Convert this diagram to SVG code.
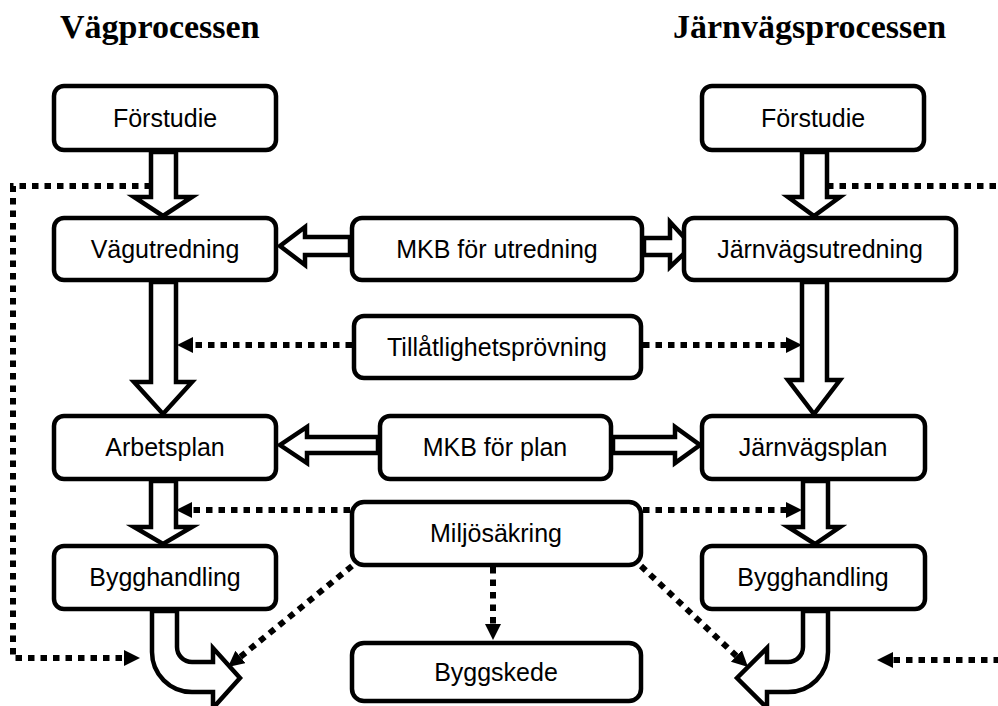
<svg xmlns="http://www.w3.org/2000/svg" width="998" height="706" viewBox="0 0 998 706">
<style>
.box{fill:#fff;stroke:#000;stroke-width:4.5}
.blk{fill:#fff;stroke:#000;stroke-width:4.5;stroke-linejoin:miter}
.dot{fill:none;stroke:#000;stroke-width:6;stroke-dasharray:6.5 6}
.lbl{font-family:"Liberation Sans",Arial,sans-serif;font-size:25px;text-anchor:middle;fill:#000}
.title{font-family:"Liberation Serif","Times New Roman",serif;font-weight:bold;font-size:34px;fill:#000}
</style>
<defs>
<marker id="ah" markerWidth="18" markerHeight="18" refX="0" refY="8" orient="auto" markerUnits="userSpaceOnUse">
<path d="M0,0 L16,8 L0,16 Z" fill="#000"/>
</marker>
</defs>
<rect width="998" height="706" fill="#fff"/>
<g id="titles">
<text class="title" x="60" y="38">Vägprocessen</text>
<text class="title" x="673" y="38">Järnvägsprocessen</text>
</g>
<g id="connectors">
<path class="blk" d="M151,152 L151,197 L134,197 L163,216 L192,197 L176,197 L176,152 Z"/>
<path class="blk" d="M151,282 L151,382 L134,382 L163,414 L192,382 L176,382 L176,282 Z"/>
<path class="blk" d="M151,481 L151,527 L134,527 L163,544 L192,527 L176,527 L176,481 Z"/>
<path class="blk" d="M802,152 L802,197 L788,197 L814,216 L840,197 L827,197 L827,152 Z"/>
<path class="blk" d="M802,282 L802,380 L788,380 L814,414 L840,380 L827,380 L827,282 Z"/>
<path class="blk" d="M803,481 L803,527 L788,527 L815,544 L840,527 L828,527 L828,481 Z"/>
<path class="blk" d="M350,237 L305,237 L305,227 L280,246 L305,265 L305,255 L350,255 Z"/>
<path class="blk" d="M644,238 L670,238 L670,222 L692,246 L670,267 L670,255 L644,255 Z"/>
<path class="blk" d="M378,437 L307,437 L307,427 L280,445 L307,463 L307,453 L378,453 Z"/>
<path class="blk" d="M613,437 L675,437 L675,427 L700,445 L675,463 L675,453 L613,453 Z"/>
<path class="blk" d="M152,611 L152,652 A40,40 0 0 0 192,692 L213,692 L213,708 L240,678 L213,648 L213,662 L192,662 A15,15 0 0 1 177,647 L177,611 Z"/>
<path class="blk" d="M828,611 L828,652 A40,40 0 0 1 788,692 L767,692 L767,708 L737,678 L767,648 L767,662 L788,662 A15,15 0 0 0 803,647 L803,611 Z"/>
<polyline class="dot" points="151,186 13,186 13,658 124,658" marker-end="url(#ah)"/>
<line class="dot" x1="827" y1="186" x2="1000" y2="186"/>
<line class="dot" x1="1000" y1="660" x2="893" y2="660" marker-end="url(#ah)"/>
<line class="dot" x1="352" y1="345" x2="193" y2="345" marker-end="url(#ah)"/>
<line class="dot" x1="643" y1="345" x2="786" y2="345" marker-end="url(#ah)"/>
<line class="dot" x1="350" y1="510" x2="192" y2="510" marker-end="url(#ah)"/>
<line class="dot" x1="643" y1="510" x2="786" y2="510" marker-end="url(#ah)"/>
<line class="dot" x1="493" y1="567" x2="493" y2="624" marker-end="url(#ah)"/>
<line class="dot" x1="352" y1="566" x2="240.4" y2="656.9" marker-end="url(#ah)"/>
<line class="dot" x1="641" y1="566" x2="736.4" y2="656" marker-end="url(#ah)"/>
</g>
<g id="n_forstudie_v"><rect class="box" x="54" y="86" width="222" height="64" rx="10"/><text class="lbl" x="165" y="127">Förstudie</text></g>
<g id="n_forstudie_j"><rect class="box" x="702" y="86" width="222" height="64" rx="10"/><text class="lbl" x="813" y="127">Förstudie</text></g>
<g id="n_vagutredning"><rect class="box" x="54" y="218" width="222" height="62" rx="10"/><text class="lbl" x="165" y="258">Vägutredning</text></g>
<g id="n_mkb_utredning"><rect class="box" x="352" y="218" width="290" height="62" rx="10"/><text class="lbl" x="497" y="258">MKB för utredning</text></g>
<g id="n_jarnvagsutredning"><rect class="box" x="684" y="218" width="272" height="62" rx="10"/><text class="lbl" x="820" y="258">Järnvägsutredning</text></g>
<g id="n_tillatlighet"><rect class="box" x="354" y="316" width="287" height="62" rx="10"/><text class="lbl" x="497" y="356">Tillåtlighetsprövning</text></g>
<g id="n_arbetsplan"><rect class="box" x="54" y="416" width="222" height="63" rx="10"/><text class="lbl" x="165" y="456">Arbetsplan</text></g>
<g id="n_mkb_plan"><rect class="box" x="380" y="416" width="231" height="63" rx="10"/><text class="lbl" x="495" y="456">MKB för plan</text></g>
<g id="n_jarnvagsplan"><rect class="box" x="702" y="416" width="223" height="63" rx="10"/><text class="lbl" x="813" y="456">Järnvägsplan</text></g>
<g id="n_miljosakring"><rect class="box" x="352" y="502" width="289" height="63" rx="12"/><text class="lbl" x="496" y="542">Miljösäkring</text></g>
<g id="n_bygghandling_v"><rect class="box" x="54" y="546" width="222" height="63" rx="10"/><text class="lbl" x="165" y="586">Bygghandling</text></g>
<g id="n_bygghandling_j"><rect class="box" x="702" y="546" width="223" height="63" rx="10"/><text class="lbl" x="813" y="586">Bygghandling</text></g>
<g id="n_byggskede"><rect class="box" x="352" y="643" width="289" height="58" rx="12"/><text class="lbl" x="496" y="681">Byggskede</text></g>
</svg>
